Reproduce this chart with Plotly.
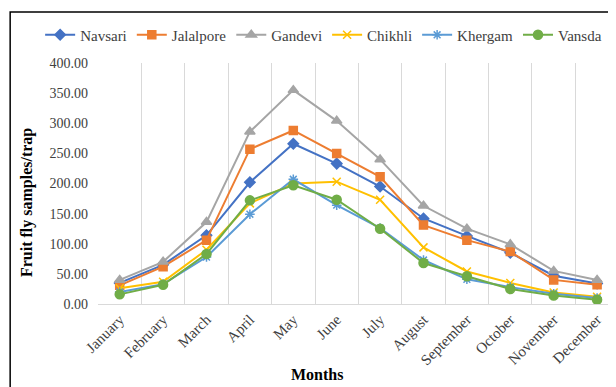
import plotly.graph_objects as go

months = ["January", "February", "March", "April", "May", "June", "July",
          "August", "September", "October", "November", "December"]
navsari = [35, 65, 114, 202, 266, 233, 195, 142, 113, 85, 47, 34]
jalalpore = [31, 62, 106, 257, 288, 250, 211, 131, 106, 87, 40, 32]
gandevi = [40, 70, 136, 286, 355, 304, 240, 163, 125, 99, 55, 40]
chikhli = [26, 37, 90, 167, 200, 203, 173, 94, 54, 35, 19, 12]
khergam = [20, 33, 78, 149, 207, 164, 126, 73, 41, 28, 17, 10]
vansda = [16, 32, 83, 172, 197, 173, 125, 68, 46, 25, 14, 7]

series = [
    ("Navsari", navsari, "#4472C4", "diamond", 8),
    ("Jalalpore", jalalpore, "#ED7D31", "square", 8),
    ("Gandevi", gandevi, "#A5A5A5", "triangle-up", 9),
    ("Chikhli", chikhli, "#FFC000", "x-thin-open", 8),
    ("Khergam", khergam, "#5B9BD5", "asterisk-open", 8),
    ("Vansda", vansda, "#70AD47", "circle", 9),
]

SERIF = "Liberation Serif"

fig = go.Figure()
for name, vals, col, sym, sz in series:
    fig.add_trace(go.Scatter(
        x=months, y=vals, name=name, mode="lines+markers",
        line=dict(color=col, width=2),
        marker=dict(symbol=sym, size=sz, color=col, line=dict(color=col, width=1.5)),
    ))

fig.update_layout(
    width=616, height=387,
    margin=dict(l=90, r=0, t=55, b=91, autoexpand=False),
    paper_bgcolor="white", plot_bgcolor="white",
    font=dict(family=SERIF, color="#595959", size=13),
    showlegend=True,
    legend=dict(orientation="h", x=-0.11, xanchor="left", y=1.116, yanchor="middle",
                font=dict(family=SERIF, size=15, color="#404040"), itemwidth=30,
                bgcolor="rgba(0,0,0,0)"),
    shapes=[dict(type="rect", xref="paper", yref="paper",
                 x0=-0.167, x1=1.05, y0=-0.40, y1=1.212,
                 line=dict(color="black", width=1.5))],
    annotations=[
        dict(text="<b>Fruit fly samples/trap</b>", xref="paper", yref="paper",
             x=-0.135, y=0.423, xanchor="center", yanchor="middle", textangle=-90,
             showarrow=False, font=dict(family=SERIF, size=16, color="black")),
        dict(text="<b>Months</b>", xref="paper", yref="paper",
             x=0.416, y=-0.292, xanchor="center", yanchor="middle",
             showarrow=False, font=dict(family=SERIF, size=16, color="black")),
    ],
)
fig.update_xaxes(
    type="category", range=[-0.5, 11.62], tickson="boundaries", automargin=False,
    showgrid=True, gridcolor="#D9D9D9", gridwidth=1,
    showline=True, linecolor="#D9D9D9", ticks="", tickangle=-45,
    tickfont=dict(family=SERIF, size=15, color="#404040"),
)
fig.update_yaxes(
    range=[0, 400], dtick=50, tickformat=".2f", showgrid=False, zeroline=False,
    showline=False, ticks="", automargin=False, ticklabelstandoff=9,
    tickfont=dict(family=SERIF, size=14, color="#404040"),
)

fig.write_html("out.html")
